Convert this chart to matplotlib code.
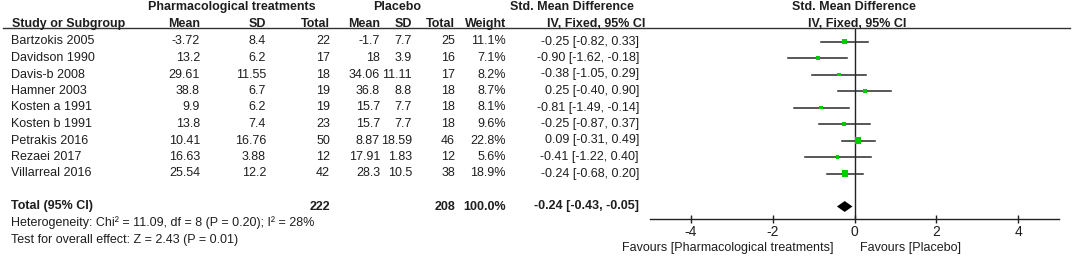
import matplotlib
matplotlib.use("Agg")
import matplotlib.pyplot as plt
import numpy as np

plt.rcParams['font.family'] = ['Liberation Sans', 'DejaVu Sans']

# ---------------- data ----------------
studies = ["Bartzokis 2005", "Davidson 1990", "Davis-b 2008", "Hamner 2003",
           "Kosten a 1991", "Kosten b 1991", "Petrakis 2016", "Rezaei 2017",
           "Villarreal 2016"]
pharm_mean = [-3.72, 13.2, 29.61, 38.8, 9.9, 13.8, 10.41, 16.63, 25.54]
pharm_sd = [8.4, 6.2, 11.55, 6.7, 6.2, 7.4, 16.76, 3.88, 12.2]
pharm_n = [22, 17, 18, 19, 19, 23, 50, 12, 42]
plc_mean = [-1.7, 18, 34.06, 36.8, 15.7, 15.7, 8.87, 17.91, 28.3]
plc_sd = [7.7, 3.9, 11.11, 8.8, 7.7, 7.7, 18.59, 1.83, 10.5]
plc_n = [25, 16, 17, 18, 18, 18, 46, 12, 38]
weight = [11.1, 7.1, 8.2, 8.7, 8.1, 9.6, 22.8, 5.6, 18.9]
smd = [-0.25, -0.90, -0.38, 0.25, -0.81, -0.25, 0.09, -0.41, -0.24]
ci_lo = [-0.82, -1.62, -1.05, -0.40, -1.49, -0.87, -0.31, -1.22, -0.68]
ci_hi = [0.33, -0.18, 0.29, 0.90, -0.14, 0.37, 0.49, 0.40, 0.20]

total_pharm_n = 222
total_plc_n = 208
total_weight = 100.0
total_smd = -0.24
total_lo = -0.43
total_hi = -0.05
heterogeneity = "Heterogeneity: Chi\u00b2 = 11.09, df = 8 (P = 0.20); I\u00b2 = 28%"
overall = "Test for overall effect: Z = 2.43 (P = 0.01)"
xticks = [-4, -2, 0, 2, 4]

# ---------------- layout ----------------
W, H = 1072, 256
fig = plt.figure(figsize=(W / 100, H / 100), dpi=100)
fig.patch.set_facecolor("white")

ROW0, ROWH = 41.5, 16.5
def row_y(i):
    return ROW0 + ROWH * i

TXT = "#1e1e1e"
FS = 9

# forest axes
ax_left, ax_right = 650, 1059
ax_top, ax_bot = 28, 219
fax = fig.add_axes([ax_left / W, (H - ax_bot) / H, (ax_right - ax_left) / W, (ax_bot - ax_top) / H])
fax.set_xlim(-5, 5)
fax.set_ylim((ax_bot - ROW0) / ROWH, (ax_top - ROW0) / ROWH)
for s in ["top", "left", "right"]:
    fax.spines[s].set_visible(False)
fax.spines["bottom"].set_color("#222222")
fax.spines["bottom"].set_linewidth(1.0)
fax.set_yticks([])
fax.set_xticks(xticks)
fax.set_xticklabels([str(t) for t in xticks], fontsize=10, color=TXT)
fax.tick_params(axis="x", direction="inout", length=6, width=1, color="#222222", pad=1.5)
fax.patch.set_alpha(0)

fax.axvline(0, color="#222222", lw=1.0, zorder=1)
ys = np.arange(len(studies))
for i in range(len(studies)):
    fax.plot([ci_lo[i], ci_hi[i]], [ys[i], ys[i]], color="#2a2a2a", lw=1.1, zorder=2)
fax.scatter(smd, ys, s=[1.0 * w for w in weight], marker="s", color="#00cc00",
            edgecolors="none", zorder=3)
ty = 10
h = 0.33
fax.fill([total_lo, total_smd, total_hi, total_smd], [ty, ty - h, ty, ty + h],
         color="black", zorder=3, lw=0)

# overlay text axes in pixel coords
tax = fig.add_axes([0, 0, 1, 1])
tax.set_xlim(0, W)
tax.set_ylim(H, 0)
tax.axis("off")
tax.patch.set_alpha(0)

def t(x, y, s, ha="left", bold=False):
    tax.text(x, y, s, ha=ha, va="center", fontsize=FS, color=TXT,
             fontweight="bold" if bold else "normal")

# header line
tax.plot([3, 1070], [28, 28], color="#333333", lw=1.0)

# headers
t(232, 7, "Pharmacological treatments", ha="center", bold=True)
t(397, 7, "Placebo", ha="center", bold=True)
t(572, 7, "Std. Mean Difference", ha="center", bold=True)
t(854, 7, "Std. Mean Difference", ha="center", bold=True)
hy = 24
t(12, hy, "Study or Subgroup", bold=True)
t(200, hy, "Mean", ha="right", bold=True)
t(266, hy, "SD", ha="right", bold=True)
t(330, hy, "Total", ha="right", bold=True)
t(380, hy, "Mean", ha="right", bold=True)
t(412, hy, "SD", ha="right", bold=True)
t(455, hy, "Total", ha="right", bold=True)
t(506, hy, "Weight", ha="right", bold=True)
t(596, hy, "IV, Fixed, 95% CI", ha="center", bold=True)
t(857, hy, "IV, Fixed, 95% CI", ha="center", bold=True)

# rows
for i, name in enumerate(studies):
    y = row_y(i)
    t(11, y, name)
    t(200, y, f"{pharm_mean[i]:g}", ha="right")
    t(266, y, f"{pharm_sd[i]:g}", ha="right")
    t(330, y, f"{pharm_n[i]}", ha="right")
    t(380, y, f"{plc_mean[i]:g}", ha="right")
    t(412, y, f"{plc_sd[i]:g}", ha="right")
    t(455, y, f"{plc_n[i]}", ha="right")
    t(506, y, f"{weight[i]:.1f}%", ha="right")
    t(639, y, f"{smd[i]:.2f} [{ci_lo[i]:.2f}, {ci_hi[i]:.2f}]", ha="right")

# totals
y = row_y(10)
t(11, y, "Total (95% CI)", bold=True)
t(330, y, f"{total_pharm_n}", ha="right", bold=True)
t(455, y, f"{total_plc_n}", ha="right", bold=True)
t(506, y, f"{total_weight:.1f}%", ha="right", bold=True)
t(639, y, f"{total_smd:.2f} [{total_lo:.2f}, {total_hi:.2f}]", ha="right", bold=True)
t(11, row_y(11), heterogeneity)
t(11, row_y(12), overall)

# favours labels
t(833, 248, "Favours [Pharmacological treatments]", ha="right")
t(860, 248, "Favours [Placebo]", ha="left")

fig.savefig("out.png", dpi=100, facecolor="white")
